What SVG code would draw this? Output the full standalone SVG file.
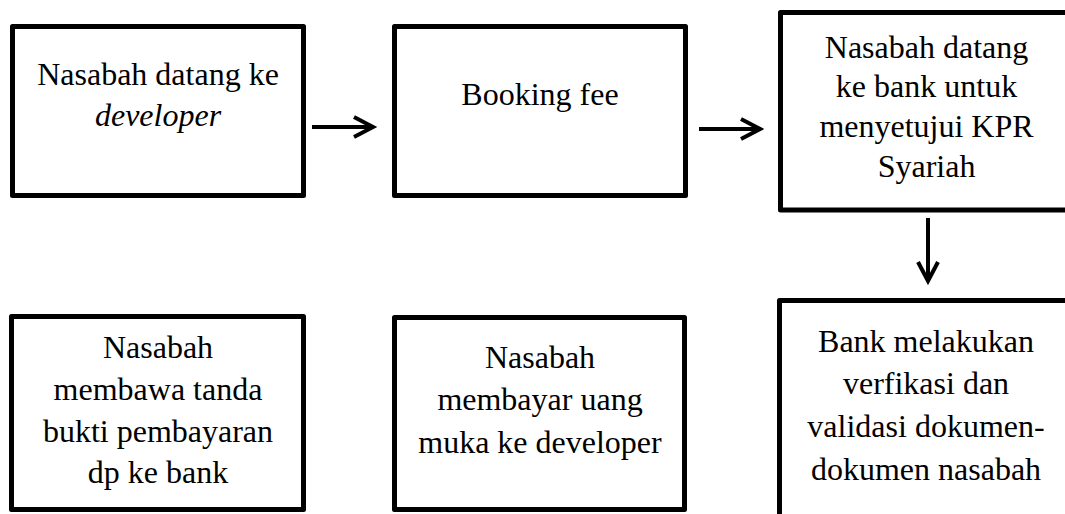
<svg xmlns="http://www.w3.org/2000/svg" width="1065" height="514" viewBox="0 0 1065 514">
<style>
.box{fill:#fff;stroke:#000;stroke-width:5;stroke-linejoin:round}
.t{font-family:"Liberation Serif","Times New Roman",serif;font-size:32px;fill:#000;text-anchor:middle}
.c{fill:none;stroke:#000;stroke-width:4;stroke-linecap:butt;stroke-linejoin:miter}
</style>
<rect width="1065" height="514" fill="#fff"/>
<g id="n1">
<rect class="box" x="12.5" y="26.5" width="291" height="169"/>
<text class="t" x="158" y="85">Nasabah datang ke</text>
<text class="t" x="158" y="126" font-style="italic">developer</text>
</g>
<g id="n2">
<rect class="box" x="394.5" y="26.5" width="291" height="169"/>
<text class="t" x="540" y="105">Booking fee</text>
</g>
<g id="n3">
<rect class="box" x="780.5" y="12.5" width="300" height="197.5"/>
<text class="t" x="926.5" y="58">Nasabah datang</text>
<text class="t" x="926.5" y="97">ke bank untuk</text>
<text class="t" x="926.5" y="137">menyetujui KPR</text>
<text class="t" x="926.5" y="177">Syariah</text>
</g>
<g id="n4">
<rect class="box" x="779.5" y="300.5" width="300" height="230"/>
<text class="t" x="926" y="352">Bank melakukan</text>
<text class="t" x="926" y="394">verfikasi dan</text>
<text class="t" x="926" y="437">validasi dokumen-</text>
<text class="t" x="926" y="480">dokumen nasabah</text>
</g>
<g id="n5">
<rect class="box" x="394.5" y="317.5" width="290" height="192"/>
<text class="t" x="540" y="368">Nasabah</text>
<text class="t" x="540" y="410">membayar uang</text>
<text class="t" x="540" y="453">muka ke developer</text>
</g>
<g id="n6">
<rect class="box" x="11.5" y="316.5" width="292" height="193"/>
<text class="t" x="158" y="358">Nasabah</text>
<text class="t" x="158" y="400">membawa tanda</text>
<text class="t" x="158" y="442">bukti pembayaran</text>
<text class="t" x="158" y="483">dp ke bank</text>
</g>
<g id="connectors">
<path class="c" d="M312 127H373M354 117L373 127L354 137"/>
<path class="c" d="M699 129H760M741 119L760 129L741 139"/>
<path class="c" d="M928 218V281M918 262L928 281L938 262"/>
</g>
</svg>
